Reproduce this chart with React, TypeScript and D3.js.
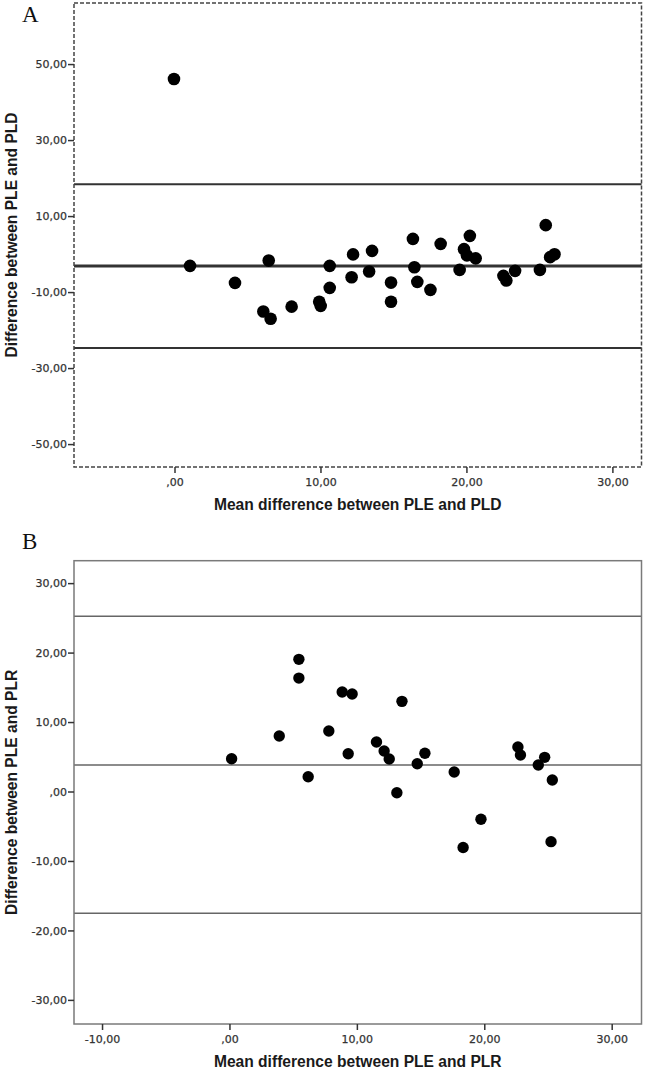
import React from "react";
import * as d3 from "d3";

// Panel A data: mean vs difference (PLE vs PLD)
const meanA = [-0.07, 1.03, 4.11, 6.05, 6.42, 6.55, 7.99, 9.88, 9.98, 10.6, 10.6, 12.1, 12.2, 13.3, 13.5, 14.8, 14.8, 16.3, 16.4, 16.6, 17.5, 18.2, 19.5, 19.8, 20.0, 20.2, 20.6, 22.5, 22.7, 23.3, 25.0, 25.4, 25.7, 26.0];
const diffA = [46.2, -2.97, -7.45, -15.0, -1.58, -16.9, -13.7, -12.4, -13.5, -2.97, -8.76, -5.95, 0.05, -4.47, 0.97, -7.37, -12.4, 4.13, -3.32, -7.18, -9.29, 2.82, -4.03, 1.42, -0.2, 4.92, -1.0, -5.6, -6.84, -4.29, -4.03, 7.74, -0.68, 0.1];
const linesA = [18.5, -3.0, -24.6];
const xTicksA = [0, 10, 20, 30];
const yTicksA = [50, 30, 10, -10, -30, -50];

// Panel B data: mean vs difference (PLE vs PLR)
const meanB = [0.13, 3.87, 5.41, 5.41, 6.14, 7.76, 8.81, 9.28, 9.59, 11.5, 12.1, 12.5, 13.1, 13.5, 14.7, 15.3, 17.6, 18.3, 19.7, 22.6, 22.8, 24.2, 24.7, 25.3, 25.2];
const diffB = [4.79, 8.06, 19.1, 16.4, 2.2, 8.78, 14.4, 5.51, 14.1, 7.19, 5.9, 4.75, -0.1, 13.05, 4.07, 5.57, 2.88, -8.0, -3.93, 6.47, 5.32, 3.88, 4.99, 1.73, -7.15];
const linesB = [25.3, 3.88, -17.45];
const xTicksB = [-10, 0, 10, 20, 30];
const yTicksB = [30, 20, 10, 0, -10, -20, -30];

const fmt = (v: number) => {
  if (v === 0) return ",00";
  const s = Math.abs(v).toFixed(2).replace(".", ",");
  return (v < 0 ? "-" : "") + s;
};

const LEFT = 74;
const RIGHT = 641.5;

function Panel(props: {
  label: string;
  labelY: number;
  top: number;
  bottom: number;
  xDomain: [number, number];
  yDomain: [number, number];
  xs: number[];
  ys: number[];
  lines: number[];
  lineWidths: number[];
  lineColor: string;
  xTicks: number[];
  yTicks: number[];
  dashed: boolean;
  r: number;
  xTitle: string;
  yTitle: string;
  tickLabelY: number;
  xTitleY: number;
}) {
  const x = d3.scaleLinear().domain(props.xDomain).range([LEFT, RIGHT]);
  const y = d3.scaleLinear().domain(props.yDomain).range([props.bottom, props.top]);
  const frameColor = props.dashed ? "#444" : "#7a7a7a";
  const dash = props.dashed ? "4,2" : undefined;
  const cy = (props.top + props.bottom) / 2;
  return (
    <g>
      <text x={22} y={props.labelY} fontFamily="Liberation Serif, Times New Roman, serif" fontSize={23} fill="#111">
        {props.label}
      </text>
      {props.lines.map((v, i) => (
        <line key={"l" + i} x1={LEFT} x2={RIGHT} y1={y(v)} y2={y(v)} stroke={props.lineColor} strokeWidth={props.lineWidths[i]} />
      ))}
      <rect x={LEFT} y={props.top} width={RIGHT - LEFT} height={props.bottom - props.top} fill="none" stroke={frameColor} strokeWidth={1.5} strokeDasharray={dash} />
      {props.yTicks.map((t) => (
        <g key={"y" + t}>
          <line x1={LEFT - 6} x2={LEFT} y1={y(t)} y2={y(t)} stroke="#333" strokeWidth={1.5} />
          <text x={LEFT - 7} y={y(t)} dy="0.35em" textAnchor="end" fontFamily="DejaVu Sans, Verdana, sans-serif" fontSize={11} fill="#333" stroke="#333" strokeWidth={0.25}>
            {fmt(t)}
          </text>
        </g>
      ))}
      {props.xTicks.map((t) => (
        <g key={"x" + t}>
          <line x1={x(t)} x2={x(t)} y1={props.bottom} y2={props.bottom + 6} stroke="#333" strokeWidth={1.5} />
          <text x={x(t)} y={props.tickLabelY} textAnchor="middle" fontFamily="DejaVu Sans, Verdana, sans-serif" fontSize={11} fill="#333" stroke="#333" strokeWidth={0.25}>
            {fmt(t)}
          </text>
        </g>
      ))}
      {props.xs.map((v, i) => (
        <circle key={"p" + i} cx={x(v)} cy={y(props.ys[i])} r={props.r} fill="#000" />
      ))}
      <text x={(LEFT + RIGHT) / 2} y={props.xTitleY} textAnchor="middle" fontFamily="Liberation Sans, Arial, sans-serif" fontWeight="bold" fontSize={15.6} fill="#1a1a1a">
        {props.xTitle}
      </text>
      <text transform={`translate(17,${cy}) rotate(-90)`} textAnchor="middle" fontFamily="Liberation Sans, Arial, sans-serif" fontWeight="bold" fontSize={15.6} fill="#1a1a1a">
        {props.yTitle}
      </text>
    </g>
  );
}

export default function App() {
  return (
    <svg width={645} height={1071} style={{ position: "absolute", left: 0, top: 0, background: "#fff" }}>
      <Panel
        label="A"
        labelY={21.7}
        top={3}
        bottom={467}
        xDomain={[-6.92, 31.96]}
        yDomain={[-55.9, 66.2]}
        xs={meanA}
        ys={diffA}
        lines={linesA}
        lineWidths={[2, 3, 2]}
        lineColor="#333"
        xTicks={xTicksA}
        yTicks={yTicksA}
        dashed={true}
        r={6.3}
        xTitle="Mean difference between PLE and PLD"
        yTitle="Difference between PLE and PLD"
        tickLabelY={486}
        xTitleY={510}
      />
      <Panel
        label="B"
        labelY={549}
        top={560.7}
        bottom={1024}
        xDomain={[-12.24, 32.3]}
        yDomain={[-33.4, 33.3]}
        xs={meanB}
        ys={diffB}
        lines={linesB}
        lineWidths={[1.5, 1.5, 1.5]}
        lineColor="#666"
        xTicks={xTicksB}
        yTicks={yTicksB}
        dashed={false}
        r={5.7}
        xTitle="Mean difference between PLE and PLR"
        yTitle="Difference between PLE and PLR"
        tickLabelY={1043}
        xTitleY={1067}
      />
    </svg>
  );
}
